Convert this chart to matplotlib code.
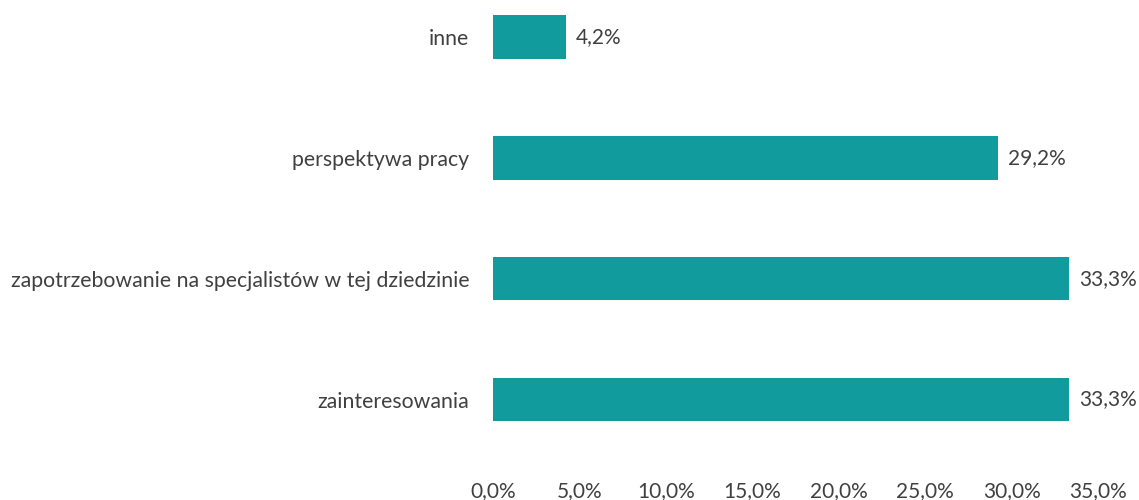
import matplotlib
matplotlib.use("Agg")
import matplotlib.pyplot as plt
from matplotlib.ticker import FuncFormatter

categories = ["zainteresowania", "zapotrzebowanie na specjalistów w tej dziedzinie",
              "perspektywa pracy", "inne"]
values = [33.3, 33.3, 29.2, 4.2]
xticks = [0, 5, 10, 15, 20, 25, 30, 35]

plt.rcParams['font.family'] = ['Lato', 'DejaVu Sans']
fig = plt.figure(figsize=(11.39, 5.0), dpi=100)
ax = fig.add_axes([493/1139, 40/500, 605/1139, 460/500])

FS = 15.0
ypos = list(range(len(categories)))
ax.barh(ypos, values, height=0.36, color="#129B9C")
for y, v in zip(ypos, values):
    ax.text(v + 0.6, y, f"{v:.1f}%".replace(".", ","), va="center", ha="left",
            fontsize=FS, color="#404040")

ax.set_yticks(ypos)
ax.set_yticklabels(categories, fontsize=15.3, color="#404040")
ax.set_xticks(xticks)
ax.xaxis.set_major_formatter(FuncFormatter(lambda x, p: f"{x:.1f}%".replace(".", ",")))
ax.tick_params(axis='x', labelsize=FS, labelcolor="#404040", length=0, pad=15)
ax.tick_params(axis='y', length=0, pad=17)
ax.set_xlim(0, 35)
ax.set_ylim(-0.5, 3 + 37/121)
for s in ax.spines.values():
    s.set_visible(False)

fig.savefig("out.png", dpi=100)
